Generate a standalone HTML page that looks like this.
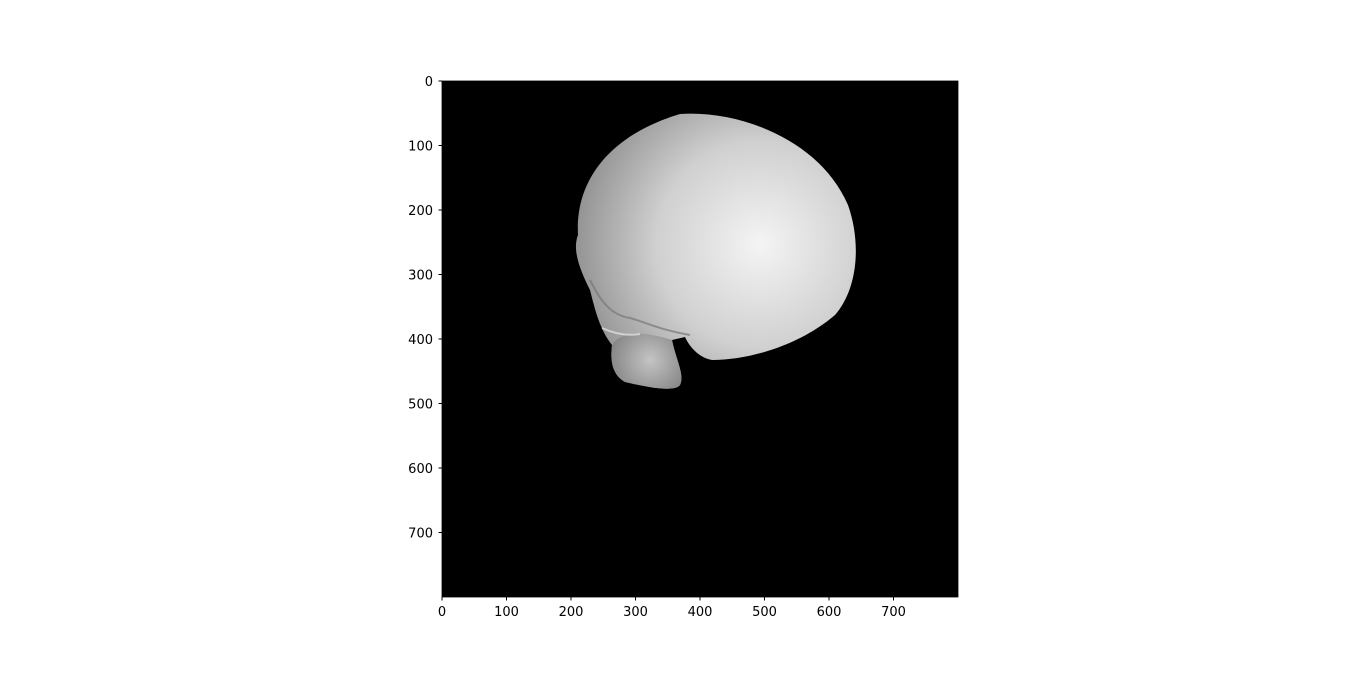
<!DOCTYPE html>
<html><head><meta charset="utf-8"><style>
html,body{margin:0;padding:0;background:#fff;}
svg text{font-family:"DejaVu Sans","Liberation Sans",sans-serif;font-size:13px;fill:#000;}
</style></head><body>
<svg id="chart" width="1366" height="671" xmlns="http://www.w3.org/2000/svg">
<defs>
<radialGradient id="g1" cx="760" cy="245" r="230" gradientUnits="userSpaceOnUse">
<stop offset="0" stop-color="#f4f4f4"/><stop offset="0.45" stop-color="#d0d0d0"/><stop offset="0.8" stop-color="#949494"/><stop offset="1" stop-color="#4a4a4a"/>
</radialGradient>
<radialGradient id="g2" cx="650" cy="360" r="50" gradientUnits="userSpaceOnUse">
<stop offset="0" stop-color="#c4c4c4"/><stop offset="1" stop-color="#777"/>
</radialGradient>
</defs>
<rect x="442" y="81" width="516" height="516" fill="#000"/>
<g>
<path d="M578,235 C575,180 610,135 680,114 C740,110 820,140 848,205 C862,245 857,290 835,315 C800,345 750,360 712,360 C700,358 690,348 685,337 L672,340 C676,360 685,375 680,385 C675,392 650,388 625,382 C612,375 610,360 612,345 C600,330 595,310 590,290 C580,270 572,250 578,235 Z" fill="url(#g1)"/>
<path d="M612,345 C620,332 640,330 672,340 C676,360 685,375 680,385 C675,392 650,388 625,382 C612,375 610,360 612,345 Z" fill="url(#g2)"/>
<path d="M590,280 C600,300 610,315 630,318 C645,322 660,330 690,335" stroke="#777" stroke-width="2" fill="none" opacity="0.7"/>
<path d="M602,328 C615,334 628,336 640,334" stroke="#ddd" stroke-width="2" fill="none" opacity="0.8"/>
</g>
<g id="axes" stroke="#000" fill="none" stroke-width="0.8">
<rect x="442" y="81" width="516" height="516"/>
</g>
<g id="xt"></g>
<g id="yt"></g>
</svg>
<script>
const xTicks=[0,100,200,300,400,500,600,700];
const yTicks=[0,100,200,300,400,500,600,700];
const x0=442,y0=81,scale=516/800;
const ns="http://www.w3.org/2000/svg";
const xt=document.getElementById('xt'),yt=document.getElementById('yt');
xTicks.forEach(v=>{
 const x=x0+v*scale;
 const l=document.createElementNS(ns,'line');
 l.setAttribute('x1',x);l.setAttribute('x2',x);l.setAttribute('y1',597);l.setAttribute('y2',600.5);l.setAttribute('stroke','#000');
 
 
 xt.appendChild(l);
 const t=document.createElementNS(ns,'text');
 t.setAttribute('x',x);t.setAttribute('y',616);t.setAttribute('text-anchor','middle');t.textContent=v;
 
 
 xt.appendChild(t);
});
yTicks.forEach(v=>{
 const y=y0+v*scale;
 const l=document.createElementNS(ns,'line');
 l.setAttribute('x1',438.5);l.setAttribute('x2',442);l.setAttribute('y1',y);l.setAttribute('y2',y);l.setAttribute('stroke','#000');
 
 
 yt.appendChild(l);
 const t=document.createElementNS(ns,'text');
 t.setAttribute('x',433);t.setAttribute('y',y+5);t.setAttribute('text-anchor','end');t.textContent=v;
 
 
 yt.appendChild(t);
});
</script>
</body></html>
